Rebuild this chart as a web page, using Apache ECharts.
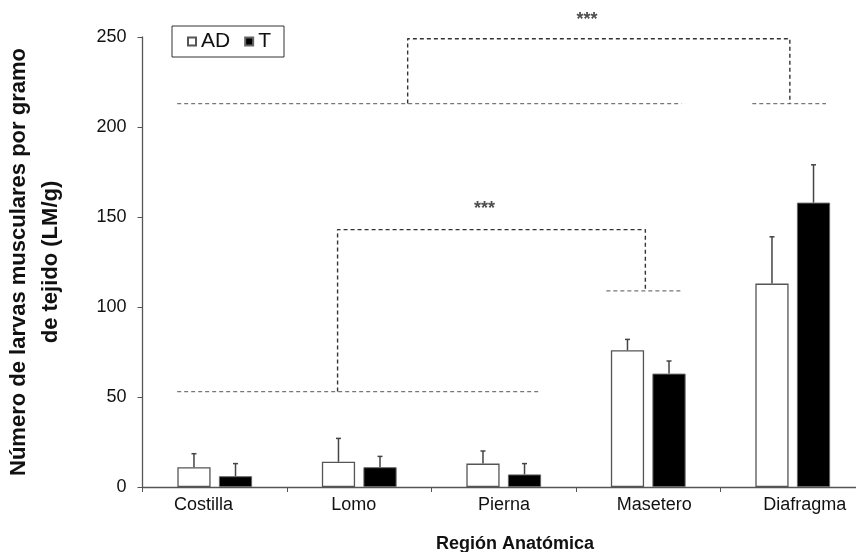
<!DOCTYPE html>
<html>
<head>
<meta charset="utf-8">
<script src="https://cdn.jsdelivr.net/npm/echarts@6/dist/echarts.min.js"></script>
<style>
html, body { margin: 0; padding: 0; background: #fff; }
#main { width: 856px; height: 552px; }
</style>
</head>
<body>
<div id="main"></div>
<script>
// datos
var categories = ['Costilla', 'Lomo', 'Pierna', 'Masetero', 'Diafragma'];
var adMean = [11, 14, 13, 76, 113];
var adErr = [7.5, 13, 7, 6, 26];
var tMean = [6, 11, 7, 63, 158];
var tErr = [7, 6, 6, 7, 21];
var yMin = 0, yMax = 250, yStep = 50;

// líneas de significancia, x en unidades de categoría (0 = Costilla)
var groupLines = [
    [[-0.26, 213], [3.23, 213]],
    [[3.72, 213], [4.23, 213]],
    [[-0.26, 53], [2.24, 53]],
    [[2.71, 109], [3.24, 109]]
];
var bracketLines = [
    [[1.335, 213], [1.335, 249], [3.98, 249], [3.98, 213]],
    [[0.85, 53], [0.85, 143], [2.98, 143], [2.98, 109]]
];
var stars = [[2.576, 259.5, '***'], [1.867, 154.3, '***']];

var FONT = 'Liberation Sans, Arial, sans-serif';
var barW = 0.23, barGapR = 0.25;
var off = (barW + barW * barGapR) / 2;

var myChart = echarts.init(document.getElementById('main'));

function errorBar(offset) {
    return function (params, api) {
        var cat = api.value(0);
        var base = api.coord([cat, api.value(1)]);
        var top = api.coord([cat, api.value(2)]);
        var band = api.size([1, 0])[0];
        var x = base[0] + band * offset;
        var st = { stroke: '#444', lineWidth: 1.5 };
        return {
            type: 'group',
            children: [
                { type: 'line', shape: { x1: x, y1: base[1], x2: x, y2: top[1] }, style: st },
                { type: 'line', shape: { x1: x - 2.5, y1: top[1], x2: x + 2.5, y2: top[1] }, style: st }
            ]
        };
    };
}

var series = [
    {
        name: 'AD', type: 'bar', data: adMean,
        barWidth: (barW * 100) + '%', barGap: (barGapR * 100) + '%',
        itemStyle: { color: '#fff', borderColor: '#555', borderWidth: 1.3 }
    },
    {
        name: 'T', type: 'bar', data: tMean,
        barWidth: (barW * 100) + '%',
        itemStyle: { color: '#000', borderColor: '#666', borderWidth: 1 }
    },
    {
        type: 'custom', renderItem: errorBar(-off), z: 5,
        data: categories.map(function (c, i) { return [i, adMean[i], adMean[i] + adErr[i]]; })
    },
    {
        type: 'custom', renderItem: errorBar(off), z: 5,
        data: categories.map(function (c, i) { return [i, tMean[i], tMean[i] + tErr[i]]; })
    }
];

groupLines.forEach(function (pts) {
    series.push({
        type: 'line', xAxisIndex: 1, data: pts, showSymbol: false, silent: true,
        lineStyle: { color: '#777', width: 1.2, type: [4, 3] }
    });
});
bracketLines.forEach(function (pts) {
    series.push({
        type: 'line', xAxisIndex: 1, data: pts, showSymbol: false, silent: true,
        lineStyle: { color: '#333', width: 1.4, type: [4, 3] }
    });
});
series.push({
    type: 'scatter', xAxisIndex: 1, clip: false, symbolSize: 0, silent: true,
    data: stars,
    label: {
        show: true, position: 'inside', formatter: function (p) { return p.value[2]; },
        fontFamily: FONT, fontSize: 18, fontWeight: 'bold', color: '#222'
    }
});

var option = {
    animation: false,
    backgroundColor: '#fff',
    textStyle: { fontFamily: FONT },
    grid: [
        { left: 142.5, top: 37, bottom: 65, width: 722.5, outerBoundsMode: 'none' },
        // rótulos del eje X, algo más separados que las categorías (como en el original)
        { left: 128.3, top: 37, bottom: 65, width: 751.5, outerBoundsMode: 'none' }
    ],
    legend: {
        data: ['AD', 'T'],
        left: 172, top: 26,
        orient: 'horizontal',
        icon: 'rect',
        borderColor: '#333', borderWidth: 1,
        padding: [5, 13, 5, 15],
        itemGap: 14, itemWidth: 8, itemHeight: 8,
        textStyle: { fontFamily: FONT, fontSize: 21, color: '#111' }
    },
    xAxis: [
        {
            type: 'category', data: categories,
            axisLine: { onZero: false, lineStyle: { color: '#555', width: 1.3 } },
            axisTick: { show: true, length: 5, lineStyle: { color: '#555' } },
            axisLabel: { show: false }
        },
        { type: 'value', min: -0.5, max: 4.5, show: false },
        {
            type: 'category', data: categories, gridIndex: 1,
            name: 'Región Anatómica', nameLocation: 'middle', nameGap: 48,
            nameTextStyle: { fontFamily: FONT, fontSize: 18, fontWeight: 'bold', color: '#111', padding: [0, 0, 0, 22] },
            axisLine: { show: false },
            axisTick: { show: false },
            axisLabel: { fontFamily: FONT, fontSize: 18, color: '#111', margin: 9 }
        }
    ],
    yAxis: [
        {
            type: 'value', min: yMin, max: yMax, interval: yStep,
            name: 'Número de larvas musculares por gramo\nde tejido (LM/g)',
            nameLocation: 'middle', nameGap: 76, nameRotate: 90,
            nameTextStyle: { fontFamily: FONT, fontSize: 22, fontWeight: 'bold', color: '#111', lineHeight: 32 },
            axisLine: { show: true, onZero: false, lineStyle: { color: '#555', width: 1.3 } },
            axisTick: { show: true, length: 5, lineStyle: { color: '#555' } },
            axisLabel: { fontFamily: FONT, fontSize: 18, color: '#111', margin: 16 },
            splitLine: { show: false }
        },
        { type: 'value', gridIndex: 1, min: yMin, max: yMax, show: false }
    ],
    series: series
};

myChart.setOption(option);
</script>
</body>
</html>
